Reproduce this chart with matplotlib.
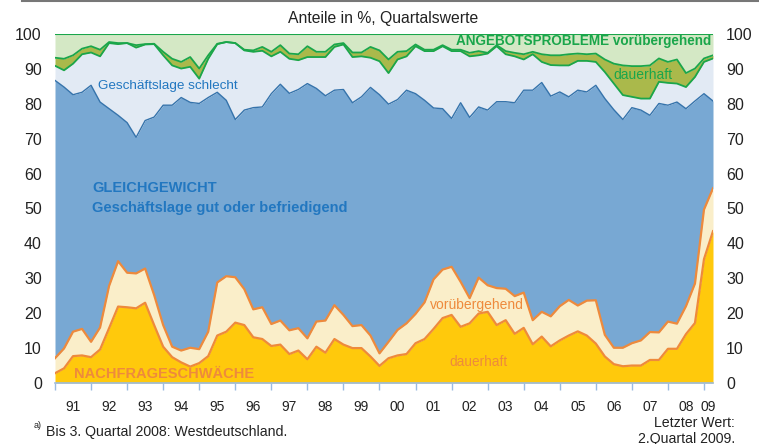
import numpy as np
import matplotlib
matplotlib.use("Agg")
import matplotlib.pyplot as plt
from matplotlib.lines import Line2D

plt.rcParams['font.family'] = ['Liberation Sans', 'DejaVu Sans']

# quarterly values, 1991 Q1 .. 2009 Q2 (cumulative levels in %)
# NACHFRAGESCHWAECHE dauerhaft (top of yellow area)
nachfrage_dauerhaft = [
    2.8, 4.2, 7.7, 7.9, 7.4, 9.6, 15.7, 21.9, 21.7, 21.4, 23.0, 16.6, 10.4, 7.4, 5.9, 4.7,
    5.7, 7.7, 13.6, 14.7, 17.3, 16.6, 13.1, 12.6, 10.6, 11.0, 8.3, 9.3, 6.8, 10.4, 8.7, 12.6,
    11.0, 10.0, 10.0, 7.6, 4.9, 7.1, 7.9, 8.3, 11.4, 12.6, 15.5, 18.6, 19.5, 16.1, 17.1, 19.9,
    20.4, 16.6, 18.0, 14.1, 15.8, 11.1, 13.3, 10.5, 12.2, 13.6, 14.8, 13.6, 11.3, 7.6, 5.4, 4.8,
    5.0, 5.0, 6.6, 6.6, 9.8, 9.8, 14.0, 17.2, 35.5, 43.5]
# + vorübergehend (top of cream area)
nachfrage_gesamt = [
    7.1, 9.9, 14.7, 15.5, 11.8, 15.9, 27.8, 34.9, 31.6, 31.4, 32.8, 25.2, 16.6, 10.4, 9.3, 10.1,
    9.7, 14.7, 28.8, 30.6, 30.3, 26.9, 21.1, 21.7, 16.9, 17.9, 15.1, 15.7, 12.8, 17.6, 17.9, 22.3,
    19.5, 16.3, 16.6, 13.6, 8.5, 11.8, 15.2, 17.1, 19.8, 23.1, 29.7, 32.5, 33.3, 29.0, 24.3, 30.2,
    28.0, 27.2, 27.0, 24.9, 25.9, 18.0, 20.4, 19.1, 22.0, 23.8, 22.2, 23.6, 23.7, 13.8, 10.1, 10.1,
    11.4, 12.2, 14.6, 14.5, 17.6, 17.0, 22.0, 28.5, 49.7, 55.8]
# GLEICHGEWICHT, Geschäftslage gut oder befriedigend (top of blue area)
gleichgewicht_gut = [
    86.7, 84.8, 82.6, 83.3, 85.3, 80.5, 78.6, 76.7, 74.6, 70.4, 75.2, 76.2, 79.6, 79.6, 81.8, 80.4,
    80.1, 81.8, 83.3, 81.0, 75.5, 78.2, 78.9, 79.1, 82.9, 85.6, 83.0, 84.1, 85.8, 84.4, 82.3, 83.9,
    84.1, 80.3, 82.0, 84.7, 82.6, 79.9, 81.2, 83.9, 82.9, 81.0, 78.8, 78.6, 75.8, 80.3, 76.1, 79.1,
    78.2, 80.6, 80.6, 80.3, 83.9, 83.9, 86.1, 82.2, 83.4, 82.0, 83.9, 83.4, 85.3, 81.5, 78.3, 75.5,
    78.9, 78.2, 76.7, 80.1, 79.6, 80.5, 78.6, 80.8, 82.9, 80.8]
# Geschäftslage schlecht (top of light blue area)
gleichgewicht_schlecht = [
    90.9, 89.6, 91.5, 94.2, 94.7, 93.6, 97.4, 97.1, 97.4, 96.1, 97.0, 97.1, 93.9, 91.0, 90.1, 90.6,
    87.2, 92.9, 97.1, 97.7, 97.4, 95.3, 94.9, 95.2, 93.6, 94.9, 92.9, 92.5, 93.4, 93.4, 93.4, 96.3,
    97.0, 93.4, 93.6, 93.2, 92.2, 88.8, 92.7, 93.6, 96.5, 95.1, 95.1, 96.5, 95.1, 95.1, 93.6, 93.9,
    94.4, 96.5, 94.2, 93.6, 92.7, 94.2, 92.0, 91.1, 91.0, 91.0, 92.3, 92.3, 92.0, 89.1, 85.8, 82.5,
    82.0, 81.5, 81.5, 86.3, 86.0, 85.8, 84.8, 87.7, 92.0, 93.0]
# ANGEBOTSPROBLEME dauerhaft (top of olive area); vorübergehend fills up to 100
angebot_dauerhaft = [
    93.2, 92.9, 93.9, 95.8, 96.5, 95.5, 97.7, 97.4, 97.4, 96.8, 97.1, 97.2, 94.9, 92.9, 92.0, 93.4,
    90.1, 93.9, 97.2, 97.7, 97.4, 95.5, 95.3, 96.3, 94.9, 96.8, 94.4, 94.2, 96.5, 94.9, 94.9, 97.0,
    97.4, 94.7, 94.7, 96.3, 95.3, 92.7, 94.9, 95.1, 97.0, 95.5, 95.5, 96.8, 95.5, 95.5, 94.6, 95.1,
    94.6, 96.8, 95.1, 94.6, 94.2, 94.9, 94.2, 93.9, 93.9, 94.2, 94.4, 94.2, 94.4, 92.7, 91.5, 91.0,
    90.8, 90.8, 91.0, 93.0, 92.0, 92.7, 88.8, 90.1, 93.0, 93.9]
gesamt = 100

year_labels = ['91', '92', '93', '94', '95', '96', '97', '98', '99', '00',
               '01', '02', '03', '04', '05', '06', '07', '08', '09']

x = 1991 + np.arange(len(nachfrage_dauerhaft)) / 4.0

ORANGE = '#EE8A3C'
GREEN = '#1AA64B'
BLUE_TXT = '#2277C0'
DARK = '#222222'

fig = plt.figure(figsize=(7.59, 4.44), dpi=100)
ax = fig.add_axes([55 / 759, 61 / 444, 658 / 759, 349 / 444])

ax.fill_between(x, 0, nachfrage_dauerhaft, color='#FFC90C', lw=0)
ax.fill_between(x, nachfrage_dauerhaft, nachfrage_gesamt, color='#FAEEC9', lw=0)
ax.fill_between(x, nachfrage_gesamt, gleichgewicht_gut, color='#78A8D3', lw=0)
ax.fill_between(x, gleichgewicht_gut, gleichgewicht_schlecht, color='#E2EAF4', lw=0)
ax.fill_between(x, gleichgewicht_schlecht, angebot_dauerhaft, color='#AAB94B', lw=0)
ax.fill_between(x, angebot_dauerhaft, gesamt, color='#D4E8C5', lw=0)

ax.plot(x, gleichgewicht_gut, color='#3573AB', lw=1.0)
ax.plot(x, gleichgewicht_schlecht, color=GREEN, lw=1.3)
ax.plot(x, angebot_dauerhaft, color=GREEN, lw=1.3)
ax.plot(x, np.full(len(x), gesamt), color=GREEN, lw=1.5)
ax.plot(x, nachfrage_dauerhaft, color=ORANGE, lw=1.6)
ax.plot(x, nachfrage_gesamt, color=ORANGE, lw=1.6)

ax.set_xlim(x[0], x[-1])
ax.set_ylim(0, 100)

# axes styling
for s in ['left', 'right', 'top']:
    ax.spines[s].set_visible(False)
ax.spines['bottom'].set_color('#9BBBE0')
ax.spines['bottom'].set_linewidth(1.2)
ax.set_yticks(range(0, 101, 10))
ax.tick_params(axis='y', length=0, labelsize=11.5, pad=9.5, colors=DARK,
               left=True, right=True, labelleft=True, labelright=True)
ax.set_xticks(np.arange(1991, 2010))
ax.set_xticklabels([])
ax.tick_params(axis='x', which='major', length=5, color='#9BBBE0', width=1)
mids = [y + 0.5 for y in range(1991, 2009)] + [2009.125]
ax.set_xticks(mids, minor=True)
ax.set_xticklabels(year_labels, minor=True)
ax.tick_params(axis='x', which='minor', length=0, labelsize=10, pad=12.5, colors=DARK)

# labels in the chart
ax.text(1992.2, 85, 'Geschäftslage schlecht', color=BLUE_TXT, fontsize=9.7, va='center')
ax.text(1992.03, 55.8, 'GLEICHGEWICHT', color=BLUE_TXT, fontsize=10.5, fontweight='bold',
        va='center')
ax.text(1992.03, 50.1, 'Geschäftslage gut oder befriedigend', color=BLUE_TXT, fontsize=10.5,
        fontweight='bold', va='center')
ax.text(2009.2, 98.1, 'ANGEBOTSPROBLEME vorübergehend', color=GREEN, fontsize=9.75,
        fontweight='bold', va='center', ha='right')
ax.text(2006.5, 88.2, 'dauerhaft', color=GREEN, fontsize=10, va='center')
ax.text(2001.4, 22.4, 'vorübergehend', color=ORANGE, fontsize=10, va='center')
ax.text(2001.95, 6.0, 'dauerhaft', color=ORANGE, fontsize=9.8, va='center')
ax.text(1991.53, 2.6, 'NACHFRAGESCHWÄCHE', color=ORANGE, fontsize=10.5, fontweight='bold',
        va='center')

fig.text(383 / 759, 1 - 18 / 444, 'Anteile in %, Quartalswerte', ha='center', va='center',
         fontsize=11.3, color=DARK)
fig.add_artist(Line2D([22 / 759, 1], [1 - 1 / 444, 1 - 1 / 444], color='#777777', lw=1.5))
fig.text(34 / 759, 1 - 425 / 444, 'a)', fontsize=6.5, va='center', color=DARK)
fig.text(46 / 759, 1 - 432 / 444, 'Bis 3. Quartal 2008: Westdeutschland.', fontsize=10.2,
         va='center', color=DARK)
fig.text(735 / 759, 1 - 423 / 444, 'Letzter Wert:', fontsize=10.2, va='center', ha='right',
         color=DARK)
fig.text(735 / 759, 1 - 438.5 / 444, '2.Quartal 2009.', fontsize=10.2, va='center', ha='right',
         color=DARK)

fig.savefig('out.png', dpi=100)
